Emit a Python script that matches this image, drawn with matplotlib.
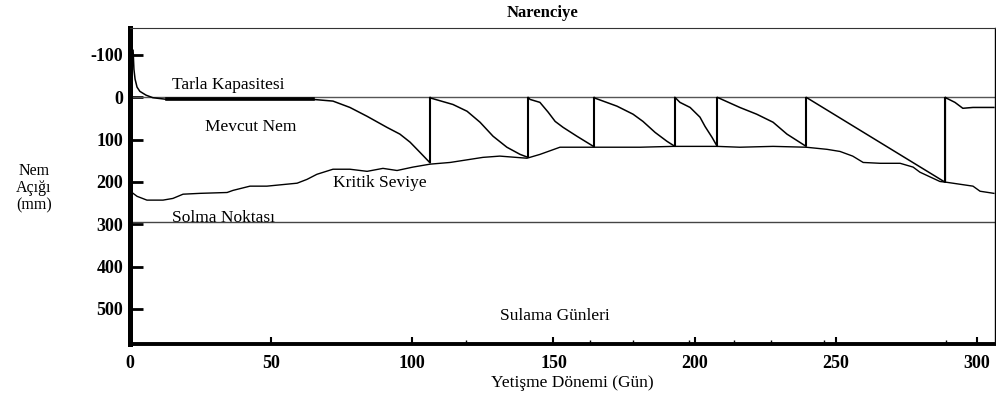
import matplotlib
matplotlib.use("Agg")
import matplotlib.pyplot as plt

# day of season / moisture deficit (mm)
nem_gun = [1.1, 1.4, 1.8, 2.5, 3.5, 5.7, 8.1, 13.1, 40, 64.8, 71.9, 77.9, 84, 91, 95.6, 99.2, 102.7, 106.3,
           106.3, 106.6, 114.4, 119.4, 124, 128.6, 133.5, 138.2, 141,
           141, 141.7, 145.2, 148.1, 150.6, 153.4, 158.3, 164.4,
           164.4, 164.7, 172.5, 178.2, 181.7, 186, 190.2, 193,
           193, 194.8, 198.4, 201.9, 203.7, 206.2, 208,
           208, 216, 222, 227.8, 232.7, 239.5,
           239.5, 288.8,
           288.8, 289.2, 292.2, 295, 298.6, 306]
nem_acigi = [-111, -66, -43, -24, -14, -5, 1, 5, 5, 5, 9, 24, 45, 71, 87, 106, 130, 155,
             0, 2, 17, 33, 59, 92, 118, 135, 142,
             0, 5, 12, 35, 57, 71, 92, 117,
             0, 2, 21, 40, 57, 83, 104, 116,
             0, 12, 24, 47, 69, 95, 116,
             0, 24, 40, 59, 87, 116,
             0, 201,
             0, 2, 12, 26, 24, 24]

kritik_gun = [0, 0.7, 2.5, 6, 11.7, 15.2, 18.8, 24.8, 34.4, 36.5, 42.5, 48.5, 59.2, 62.7, 66.2, 71.9,
              77.9, 84, 89.6, 94.6, 100.2, 106.3, 113.4, 125, 131, 140.6, 145.2, 152.3, 164, 180.7,
              192.3, 208, 216, 227.8, 239.5, 246.9, 251.5, 256, 259.7, 265.7, 272.8, 277.4, 279.8,
              286.9, 289.4, 298.6, 301.1, 306]
kritik_seviye = [222, 225, 234, 243, 243, 239, 229, 227, 225, 220, 210, 210, 203, 194, 182, 170,
                 170, 175, 168, 173, 165, 158, 154, 142, 139, 144, 135, 118, 118, 118,
                 116, 116, 118, 116, 118, 123, 128, 139, 154, 156, 156, 165, 177,
                 199, 201, 210, 222, 227]

sulama_gunleri = [106.3, 141, 164.4, 193, 208, 239.5, 288.8]
sulama_oncesi = [155, 142, 117, 116, 116, 116, 201]

tarla_kapasitesi = 0
solma_noktasi = 295

x_ticks = [0, 50, 100, 150, 200, 250, 300]
x_minor = [119, 163, 178, 198, 214, 227, 246, 289]
y_ticks = [-100, 0, 100, 200, 300, 400, 500]

plt.rcParams['font.family'] = ['Liberation Serif', 'DejaVu Serif']
plt.rcParams['axes.unicode_minus'] = False

fig = plt.figure(figsize=(9.96, 3.97), dpi=100)
ax = fig.add_axes([0.1305, 0.1335, 0.8685, 0.7952])

ax.axhline(tarla_kapasitesi, color='#555555', lw=1.0)
ax.axhline(solma_noktasi, color='#444444', lw=1.0)
ax.plot(kritik_gun, kritik_seviye, color='black', lw=1.0)
ax.plot(nem_gun, nem_acigi, color='black', lw=1.1)
# thick flat part at field capacity
ax.plot(nem_gun[7:10], nem_acigi[7:10], color='black', lw=2.6)
ax.vlines(sulama_gunleri, tarla_kapasitesi, sulama_oncesi, color='black', lw=1.5)

ax.set_xlim(0, 306.4)
ax.set_ylim(583, -163)

ax.set_xticks(x_ticks)
ax.set_xticklabels([str(t) for t in x_ticks], fontweight='bold', fontsize=13)
ax.set_xticks(x_minor, minor=True)
ax.set_yticks(y_ticks)
ax.set_yticklabels([str(t) for t in y_ticks], fontweight='bold', fontsize=13)
ax.tick_params(axis='x', direction='in', length=5, width=1.5, pad=8)
ax.tick_params(axis='x', which='minor', direction='in', length=3, width=1)
ax.tick_params(axis='y', direction='in', length=9, width=2, pad=5)

ax.spines['left'].set_linewidth(3.6)
ax.spines['bottom'].set_linewidth(2.8)
ax.spines['top'].set_linewidth(0.8)
ax.spines['right'].set_linewidth(1.0)
ax.spines['top'].set_color('#333333')

ax.text(14.9, -29, 'Tarla Kapasitesi', fontsize=12.5, va='center', ha='left')
ax.text(26.6, 70, 'Mevcut Nem', fontsize=12.5, va='center', ha='left')
ax.text(71.9, 203, 'Kritik Seviye', fontsize=12.5, va='center', ha='left')
ax.text(14.9, 285, 'Solma Noktası', fontsize=12.5, va='center', ha='left')
ax.text(150.5, 517, 'Sulama Günleri', fontsize=12.5, va='center', ha='center')

fig.text(0.5442, 1 - 13 / 397, 'Narenciye', fontsize=12, fontweight='bold', ha='center', va='center')
fig.text(572 / 996, 1 - 383 / 397, 'Yetişme Dönemi (Gün)', fontsize=12.5, ha='center', va='center')
fig.text(34 / 996, 1 - 188 / 397, 'Nem\nAçığı\n(mm)', fontsize=11.5, ha='center', va='center',
         linespacing=1.1)

fig.savefig('out.png', dpi=100)
